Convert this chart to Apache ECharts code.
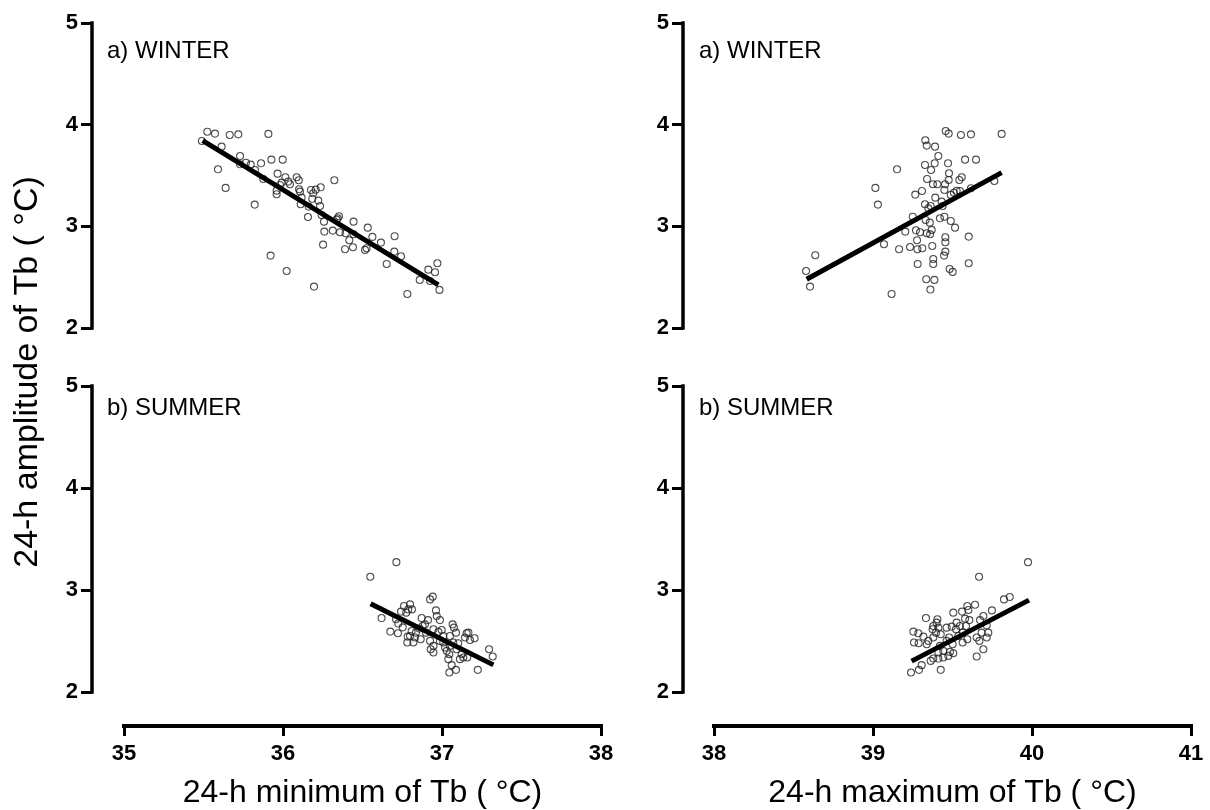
<!DOCTYPE html>
<html>
<head>
<meta charset="utf-8">
<script src="https://cdn.jsdelivr.net/npm/echarts@6/dist/echarts.min.js"></script>
<style>
html,body{margin:0;padding:0;background:#fff;}
#chart{width:1210px;height:810px;}
</style>
</head>
<body>
<div id="chart"></div>
<script>
// ---- Data ----
var xTicksMin = [35, 36, 37, 38];
var xTicksMax = [38, 39, 40, 41];
var yTicks = [2, 3, 4, 5];

// Winter: 24-h minimum vs amplitude
var winterMin = [
  [35.524,3.931],[35.572,3.912],[35.665,3.899],[35.719,3.905],[35.908,3.909],[35.49,3.84],
  [35.614,3.784],[35.73,3.692],[35.73,3.61],[35.767,3.626],[35.797,3.607],[35.862,3.62],
  [35.927,3.656],[35.998,3.656],[35.591,3.561],[35.639,3.378],[35.822,3.214],[35.824,3.554],
  [35.876,3.466],[35.966,3.518],[35.96,3.351],[35.96,3.316],[35.981,3.407],[36.015,3.483],
  [36.044,3.414],[36.033,3.44],[36.086,3.483],[36.099,3.453],[36.101,3.365],[36.107,3.341],
  [36.111,3.217],[36.117,3.282],[36.176,3.358],[36.19,3.325],[36.206,3.361],[36.237,3.384],
  [36.323,3.453],[36.184,3.272],[36.222,3.253],[36.233,3.2],[36.162,3.194],[36.157,3.092],
  [36.243,3.112],[36.258,3.046],[36.26,2.948],[36.252,2.82],[36.313,2.958],[36.344,3.079],
  [36.352,3.099],[36.358,2.942],[36.394,2.932],[36.417,2.863],[36.444,3.046],[36.444,2.922],
  [36.39,2.775],[36.44,2.794],[36.516,2.768],[36.526,2.785],[36.533,2.987],[36.562,2.896],
  [36.616,2.84],[36.702,2.903],[36.7,2.751],[36.652,2.63],[36.742,2.706],[36.782,2.335],
  [36.86,2.473],[36.914,2.574],[36.956,2.549],[36.971,2.637],[36.984,2.375],[36.925,2.463],
  [35.922,2.712],[36.023,2.561],[36.195,2.407],[35.992,3.43],[36.338,3.066]
];
var winterMinFit = [[35.495,3.843],[36.977,2.424]];

// Winter: 24-h maximum vs amplitude
var winterMax = [
  [38.579,2.561],[38.604,2.407],[38.637,2.716],[39.015,3.378],[39.031,3.214],[39.069,2.824],
  [39.117,2.335],[39.151,3.561],[39.164,2.775],[39.203,2.948],[39.233,2.797],[39.25,3.095],
  [39.266,3.312],[39.27,2.961],[39.277,2.863],[39.281,2.63],[39.279,2.775],[39.296,2.942],
  [39.308,3.348],[39.31,2.785],[39.327,3.604],[39.329,3.847],[39.338,3.794],[39.34,3.466],
  [39.327,3.217],[39.331,3.063],[39.338,2.932],[39.335,2.48],[39.348,3.178],[39.357,3.036],
  [39.359,2.922],[39.361,2.378],[39.363,3.2],[39.365,3.554],[39.369,2.965],[39.373,2.807],
  [39.379,2.679],[39.379,2.63],[39.377,3.414],[39.386,2.473],[39.388,3.62],[39.39,3.784],
  [39.392,3.282],[39.405,3.414],[39.411,3.692],[39.421,3.079],[39.438,3.2],[39.449,3.095],
  [39.447,2.712],[39.455,2.751],[39.455,2.893],[39.455,2.844],[39.449,3.358],[39.453,3.414],
  [39.457,3.938],[39.476,3.912],[39.472,3.62],[39.478,3.522],[39.476,3.456],[39.489,3.053],
  [39.482,2.581],[39.501,2.552],[39.489,3.309],[39.509,3.331],[39.516,2.987],[39.543,3.456],
  [39.558,3.483],[39.547,3.348],[39.553,3.899],[39.579,3.656],[39.602,2.899],[39.602,2.637],
  [39.616,3.905],[39.648,3.656],[39.616,3.374],[39.763,3.446],[39.809,3.909],[39.432,3.243],
  [39.526,3.35]
];
var winterMaxFit = [[38.583,2.48],[39.809,3.528]];

// Summer: 24-h minimum vs amplitude
var summerMin = [
  [36.549,3.13],[36.713,3.273],[36.62,2.725],[36.675,2.592],[36.723,2.576],[36.711,2.713],
  [36.725,2.671],[36.742,2.788],[36.761,2.843],[36.799,2.859],[36.788,2.81],[36.811,2.81],
  [36.753,2.634],[36.784,2.543],[36.782,2.485],[36.82,2.485],[36.809,2.598],[36.836,2.582],
  [36.866,2.517],[36.872,2.725],[36.912,2.705],[36.878,2.647],[36.899,2.582],[36.925,2.501],
  [36.929,2.419],[36.946,2.387],[36.925,2.908],[36.942,2.935],[36.962,2.8],[36.967,2.745],
  [36.987,2.705],[36.946,2.615],[36.977,2.589],[36.998,2.608],[37.008,2.549],[36.987,2.501],
  [37.019,2.436],[37.03,2.403],[37.046,2.37],[37.04,2.322],[37.061,2.263],[37.046,2.191],
  [37.088,2.217],[37.067,2.663],[37.075,2.631],[37.088,2.582],[37.05,2.549],[37.071,2.485],
  [37.102,2.478],[37.092,2.419],[37.124,2.37],[37.134,2.338],[37.113,2.322],[37.155,2.576],
  [37.166,2.582],[37.145,2.534],[37.176,2.51],[37.205,2.527],[37.159,2.338],[37.225,2.217],
  [37.296,2.419],[37.319,2.348],[36.83,2.534],[36.857,2.622],[37.008,2.485],[36.946,2.452],
  [36.893,2.663],[37.05,2.452],[36.775,2.778],[36.799,2.549]
];
var summerMinFit = [[36.551,2.866],[37.323,2.266]];

// Summer: 24-h maximum vs amplitude
var summerMax = [
  [39.975,3.273],[39.667,3.13],[39.824,2.908],[39.86,2.931],[39.748,2.8],[39.642,2.856],
  [39.593,2.843],[39.6,2.804],[39.56,2.788],[39.505,2.778],[39.333,2.725],[39.405,2.713],
  [39.379,2.647],[39.254,2.592],[39.285,2.576],[39.317,2.543],[39.258,2.485],[39.287,2.478],
  [39.348,2.501],[39.375,2.615],[39.396,2.582],[39.411,2.631],[39.426,2.566],[39.463,2.631],
  [39.495,2.641],[39.522,2.615],[39.547,2.647],[39.579,2.719],[39.606,2.705],[39.565,2.582],
  [39.593,2.517],[39.564,2.485],[39.652,2.534],[39.669,2.501],[39.673,2.705],[39.694,2.745],
  [39.715,2.654],[39.725,2.582],[39.715,2.534],[39.694,2.419],[39.652,2.348],[39.421,2.452],
  [39.442,2.403],[39.411,2.387],[39.379,2.328],[39.411,2.328],[39.442,2.338],[39.474,2.354],
  [39.484,2.393],[39.505,2.38],[39.363,2.305],[39.306,2.263],[39.289,2.217],[39.239,2.191],
  [39.426,2.217],[39.463,2.501],[39.501,2.468],[39.537,2.549],[39.379,2.534],[39.4,2.68],
  [39.479,2.534],[39.585,2.647],[39.338,2.468],[39.526,2.68],[39.683,2.582]
];
var summerMaxFit = [[39.243,2.303],[39.981,2.901]];

var panelLabels = ['a) WINTER', 'a) WINTER', 'b) SUMMER', 'b) SUMMER'];
var xTitleMin = '24-h minimum of Tb ( \u00B0C)';
var xTitleMax = '24-h maximum of Tb ( \u00B0C)';
var yTitle = '24-h amplitude of Tb ( \u00B0C)';

// ---- Chart ----
var FONT = '"Liberation Sans", Arial, Helvetica, sans-serif';
var chart = echarts.init(document.getElementById('chart'), null, {renderer: 'canvas'});

var grids = [
  {left: 124, top: 23, width: 477, height: 305},
  {left: 714, top: 23, width: 477, height: 305},
  {left: 124, top: 386, width: 477, height: 306},
  {left: 714, top: 386, width: 477, height: 306}
];

function xAxisDef(idx, ticks, showIt, title) {
  return {
    type: 'value', gridIndex: idx,
    min: ticks[0], max: ticks[ticks.length - 1], interval: 1,
    show: showIt,
    offset: 34,
    splitLine: {show: false},
    axisLine: {show: true, lineStyle: {color: '#000', width: 4, cap: 'square'}},
    axisTick: {show: true, length: 10, lineStyle: {color: '#000', width: 3}},
    axisLabel: {show: true, margin: 17, color: '#000', fontFamily: FONT, fontWeight: 'bold', fontSize: 22},
    name: title, nameLocation: 'middle', nameGap: 51,
    nameTextStyle: {color: '#000', fontFamily: FONT, fontSize: 32, verticalAlign: 'top'}
  };
}
function yAxisDef(idx, off) {
  return {
    type: 'value', gridIndex: idx,
    min: yTicks[0], max: yTicks[yTicks.length - 1], interval: 1,
    offset: off,
    splitLine: {show: false},
    axisLine: {show: true, lineStyle: {color: '#000', width: 3.5, cap: 'square'}},
    axisTick: {show: true, length: 11, lineStyle: {color: '#000', width: 3}},
    axisLabel: {show: true, margin: 14, color: '#000', fontFamily: FONT, fontWeight: 'bold', fontSize: 22}
  };
}

function scatter(idx, data) {
  return {
    type: 'scatter', xAxisIndex: idx, yAxisIndex: idx, data: data,
    symbol: 'circle', symbolSize: 7, z: 2,
    itemStyle: {color: 'rgba(255,255,255,0)', borderColor: '#222', borderWidth: 1.1}
  };
}
function fit(idx, data) {
  return {
    type: 'line', xAxisIndex: idx, yAxisIndex: idx, data: data,
    showSymbol: false, symbol: 'none', z: 3,
    lineStyle: {color: '#000', width: 5, cap: 'butt'}
  };
}

var graphics = [];
var labelPos = [[107, 52], [699, 52], [107, 409], [699, 409]];
for (var i = 0; i < 4; i++) {
  graphics.push({
    type: 'text', left: labelPos[i][0], top: labelPos[i][1] - 13,
    style: {text: panelLabels[i], fill: '#000', font: '24px ' + FONT}
  });
}
graphics.push({
  type: 'text', x: 28, y: 372, rotation: Math.PI / 2,
  style: {text: yTitle, fill: '#000', font: '34px ' + FONT, align: 'center', verticalAlign: 'middle'}
});

chart.setOption({
  animation: false,
  backgroundColor: '#fff',
  grid: grids,
  xAxis: [
    xAxisDef(0, xTicksMin, false, ''),
    xAxisDef(1, xTicksMax, false, ''),
    xAxisDef(2, xTicksMin, true, xTitleMin),
    xAxisDef(3, xTicksMax, true, xTitleMax)
  ],
  yAxis: [yAxisDef(0, 32), yAxisDef(1, 31), yAxisDef(2, 32), yAxisDef(3, 31)],
  series: [
    scatter(0, winterMin), fit(0, winterMinFit),
    scatter(1, winterMax), fit(1, winterMaxFit),
    scatter(2, summerMin), fit(2, summerMinFit),
    scatter(3, summerMax), fit(3, summerMaxFit)
  ],
  graphic: graphics
});
</script>
</body>
</html>
